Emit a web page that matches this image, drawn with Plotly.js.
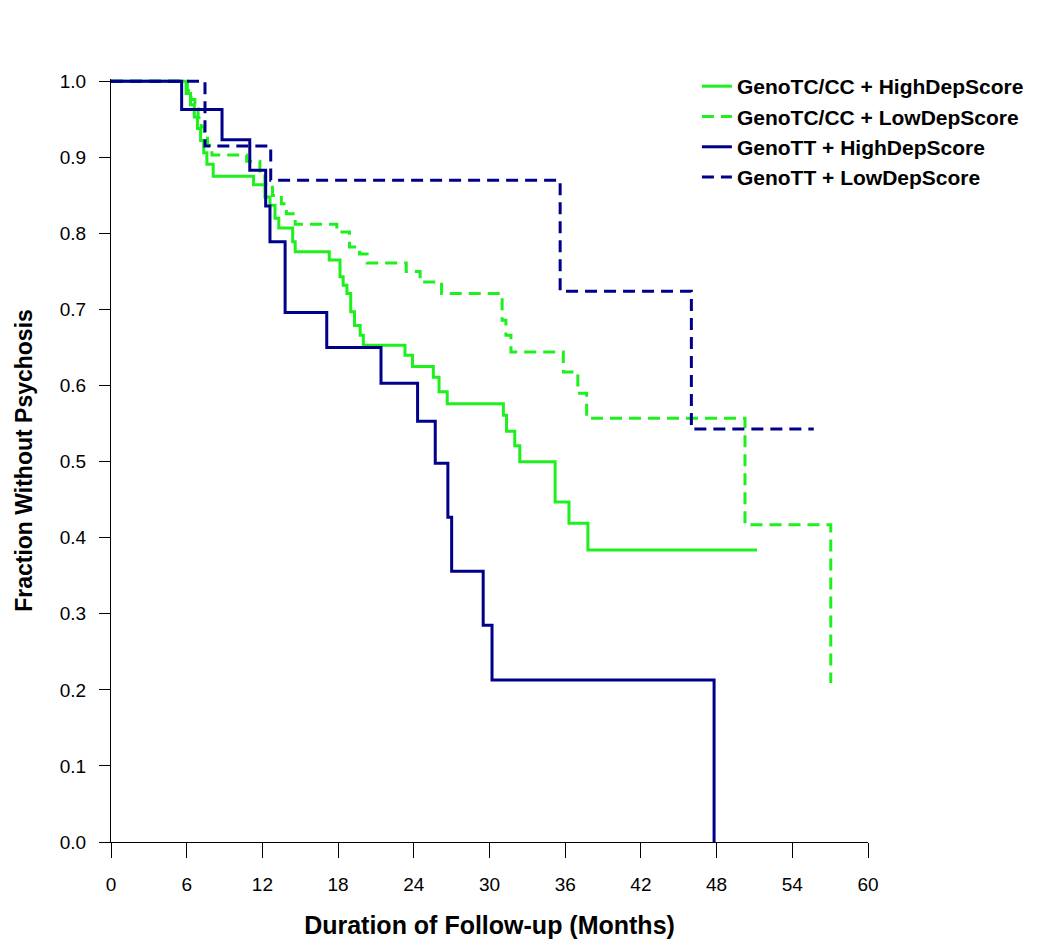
<!DOCTYPE html>
<html>
<head>
<meta charset="utf-8">
<script src="https://cdn.plot.ly/plotly-3.0.1.min.js"></script>
<style>html,body{margin:0;padding:0;background:#fff;}#chart{width:1050px;height:946px;}</style>
</head>
<body>
<div id="chart"></div>
<script>
// Series names
const seriesNames = ["GenoTC/CC + HighDepScore", "GenoTC/CC + LowDepScore", "GenoTT + HighDepScore", "GenoTT + LowDepScore"];

// GenoTC/CC + HighDepScore (months, fraction)
const tcHighTime = [0, 5.95, 6.3, 6.6, 6.85, 7.1, 7.35, 7.6, 8.1, 11.3, 12.2, 12.6, 13.0, 13.3, 14.4, 14.6, 17.3, 18.15, 18.4, 18.7, 19.0, 19.3, 19.75, 20.0, 23.3, 23.9, 25.55, 26.0, 26.65, 31.1, 31.35, 32.0, 32.4, 35.2, 36.3, 37.8, 51.2];
const tcHighSurv = [1.0, 0.984, 0.969, 0.953, 0.938, 0.922, 0.906, 0.891, 0.875, 0.864, 0.848, 0.837, 0.820, 0.807, 0.789, 0.776, 0.765, 0.743, 0.732, 0.721, 0.697, 0.679, 0.666, 0.653, 0.640, 0.625, 0.611, 0.592, 0.576, 0.561, 0.540, 0.521, 0.500, 0.447, 0.419, 0.384, 0.384];

// GenoTC/CC + LowDepScore
const tcLowTime = [0, 6.05, 6.35, 6.65, 6.9, 7.15, 7.4, 7.65, 8.0, 10.75, 11.8, 12.2, 12.8, 13.5, 13.9, 14.6, 17.9, 18.9, 19.7, 20.3, 23.4, 24.5, 26.2, 31.0, 31.3, 31.7, 35.85, 37.0, 37.7, 50.25, 57.05];
const tcLowSurv = [1.0, 0.988, 0.976, 0.964, 0.952, 0.940, 0.928, 0.916, 0.903, 0.895, 0.879, 0.865, 0.850, 0.839, 0.826, 0.812, 0.802, 0.782, 0.773, 0.761, 0.750, 0.736, 0.721, 0.686, 0.666, 0.644, 0.618, 0.590, 0.557, 0.417, 0.209];

// GenoTT + HighDepScore
const ttHighTime = [0, 5.6, 8.8, 11.0, 12.26, 12.6, 13.8, 17.1, 21.4, 24.3, 25.7, 26.7, 27.0, 29.5, 30.2, 47.8];
const ttHighSurv = [1.0, 0.963, 0.923, 0.883, 0.836, 0.789, 0.696, 0.650, 0.603, 0.553, 0.498, 0.427, 0.356, 0.285, 0.213, 0.0];

// GenoTT + LowDepScore
const ttLowTime = [0, 7.45, 12.66, 35.6, 46.0, 55.7];
const ttLowSurv = [1.0, 0.915, 0.870, 0.724, 0.543, 0.543];

// Axis ticks
const xTicks = [0, 6, 12, 18, 24, 30, 36, 42, 48, 54, 60];
const yTicks = [0.0, 0.1, 0.2, 0.3, 0.4, 0.5, 0.6, 0.7, 0.8, 0.9, 1.0];

const GREEN = "#1ef01e";
const NAVY = "#00008b";
const DASH = "12px,7px";

function trace(name, x, y, color, dash, group) {
  return {
    type: "scatter", mode: "lines", name: name, x: x, y: y,
    legendgroup: group,
    line: {shape: "hv", color: color, width: 3, dash: dash},
    hoverinfo: "x+y+name"
  };
}

const data = [
  trace(seriesNames[0], tcHighTime, tcHighSurv, GREEN, "solid", "g1"),
  trace(seriesNames[1], tcLowTime, tcLowSurv, GREEN, DASH, "g2"),
  trace(seriesNames[2], ttHighTime, ttHighSurv, NAVY, "solid", "g3"),
  trace(seriesNames[3], ttLowTime, ttLowSurv, NAVY, DASH, "g4")
];

const font = "Liberation Sans, Arial, sans-serif";

const layout = {
  width: 1050, height: 946,
  margin: {l: 111, r: 182, t: 79, b: 104},
  paper_bgcolor: "#ffffff", plot_bgcolor: "#ffffff",
  font: {family: font, color: "#000000", size: 19},
  showlegend: true,
  legend: {
    x: 0.774, y: 1.017, xanchor: "left", yanchor: "top",
    bgcolor: "rgba(0,0,0,0)", borderwidth: 0,
    font: {family: font, size: 21, color: "#000", weight: "bold"},
    traceorder: "grouped", tracegroupgap: 0
  },
  xaxis: {
    range: [0, 60], tickvals: xTicks, ticktext: xTicks.map(String),
    ticks: "outside", ticklen: 15, tickwidth: 1, tickcolor: "#000",
    ticklabelstandoff: 10,
    showline: true, linecolor: "#000", linewidth: 1,
    showgrid: false, zeroline: false,
    tickfont: {family: font, size: 19, color: "#000"},
    title: {text: "Duration of Follow-up (Months)", standoff: 22,
            font: {family: font, size: 25, color: "#000", weight: "bold"}}
  },
  yaxis: {
    range: [0, 1.003], tickvals: yTicks, ticktext: yTicks.map(v => v.toFixed(1)),
    ticks: "outside", ticklen: 11, tickwidth: 1, tickcolor: "#000",
    ticklabelstandoff: 9,
    showline: true, linecolor: "#000", linewidth: 1,
    showgrid: false, zeroline: false,
    tickfont: {family: font, size: 19, color: "#000"},
    title: {text: "Fraction Without Psychosis", standoff: 20,
            font: {family: font, size: 23, color: "#000", weight: "bold"}}
  }
};

Plotly.newPlot("chart", data, layout, {displayModeBar: false, staticPlot: true});
</script>
</body>
</html>
